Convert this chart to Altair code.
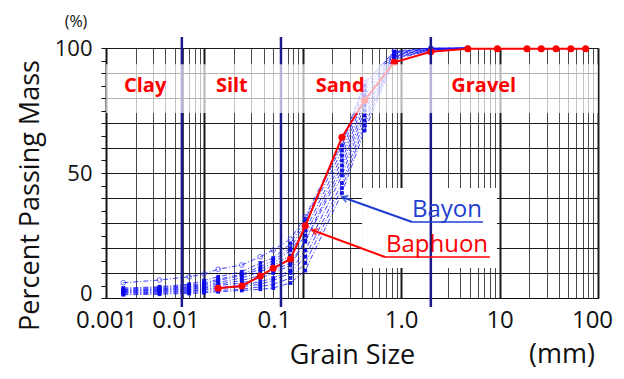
import altair as alt
import pandas as pd

# ---------------- data ----------------
# sieve / hydrometer grain sizes (mm) used for the Bayon samples
bayon_sizes = [0.0015, 0.0035, 0.007, 0.0099, 0.0138, 0.024, 0.037, 0.05,
               0.075, 0.106, 0.25, 0.425, 0.85, 2.0, 4.75]
# percent passing for each Bayon sample
bayon_01 = [6.1, 7.2, 8.5, 9.6, 11.5, 13.2, 16.5, 19.2, 23.5, 32.5, 62, 86, 98.8, 100, 100]
bayon_02 = [4.0, 4.5, 5.5, 7.0, 8.5, 10.5, 14.0, 16.0, 21.7, 31.5, 61, 85, 98.5, 100, 100]
bayon_03 = [3.6, 4.2, 5.0, 6.0, 7.5, 9.5, 12.5, 15.0, 20.0, 30.0, 59, 83, 98.3, 99.8, 100]
bayon_04 = [3.3, 3.8, 4.5, 5.5, 7.0, 9.0, 11.5, 14.0, 19.0, 27.0, 57, 81, 98.0, 99.7, 100]
bayon_05 = [3.0, 3.5, 4.2, 5.0, 6.2, 8.0, 10.5, 13.0, 17.0, 25.0, 55, 79, 97.6, 99.6, 100]
bayon_06 = [2.8, 3.2, 3.8, 4.5, 5.5, 7.0, 9.0, 11.0, 14.0, 23.0, 53, 77, 97.2, 99.5, 100]
bayon_07 = [2.5, 3.0, 3.5, 4.0, 5.0, 6.0, 8.0, 10.0, 13.0, 22.5, 51, 75, 97.0, 99.4, 100]
bayon_08 = [2.2, 2.6, 3.0, 3.5, 4.2, 5.0, 6.5, 8.0, 11.0, 19.0, 49, 73, 96.6, 99.3, 100]
bayon_09 = [2.0, 2.3, 2.7, 3.2, 3.8, 4.5, 5.5, 7.0, 10.0, 16.5, 46, 71, 96.2, 99.2, 100]
bayon_10 = [1.6, 1.9, 2.2, 2.6, 3.0, 3.5, 4.5, 5.5, 8.0, 14.0, 44, 69, 96.0, 99.0, 100]
bayon_11 = [1.3, 1.5, 1.8, 2.1, 2.5, 3.0, 3.5, 4.0, 6.0, 11.0, 42, 67, 95.5, 99.0, 100]
bayon_all = [bayon_01, bayon_02, bayon_03, bayon_04, bayon_05, bayon_06,
             bayon_07, bayon_08, bayon_09, bayon_10, bayon_11]

baphuon_sizes = [0.0138, 0.024, 0.037, 0.05, 0.075, 0.106, 0.25, 0.425, 0.85,
                 2.0, 4.75, 9.5, 19.0, 26.5, 37.5, 53.0, 75.0]
baphuon_pass = [3.9, 4.8, 8.8, 11.9, 15.6, 28.9, 64.3, 79.0, 94.3,
                98.5, 99.7, 99.7, 99.7, 99.7, 99.7, 99.7, 99.7]

# soil class boundaries (mm) and class labels
class_bounds = [0.0059, 0.06, 2.0]
class_names = ["Clay", "Silt", "Sand", "Gravel"]
class_label_x = [0.0025, 0.019, 0.24, 6.9]
class_label_y = [85, 85, 85, 85]

# axis ticks
x_decades = [0.001, 0.01, 0.1, 1, 10, 100]
x_decade_labels = ["0.001", "0.01", "0.1", "1.0", "10", "100"]
y_ticks = list(range(0, 101, 5))

# legend annotation
legend_names = ["Bayon", "Baphuon"]
legend_colors = ["#1f3fd0", "#ff0000"]
legend_text_x = [2.92, 2.31]
legend_text_y = [32.4, 18.4]
underline_x1 = [1.29, 0.684]
underline_x2 = [6.78, 7.98]
underline_y = [30.4, 16.4]
arrow_tip_x = [0.25, 0.124]
arrow_tip_y = [40.4, 27.2]
arrow_angle = [289.6, 290.3]

# ---------------- tables ----------------
rows = []
for i, arr in enumerate(bayon_all):
    for d, p in zip(bayon_sizes, arr):
        rows.append({"sample": f"B{i+1:02d}", "d": d, "p": p})
bayon_df = pd.DataFrame(rows)
bayon_open = bayon_df[bayon_df["sample"] == "B01"]
bayon_filled = bayon_df[bayon_df["sample"] != "B01"]
baphuon_df = pd.DataFrame({"d": baphuon_sizes, "p": baphuon_pass})
bounds_df = pd.DataFrame({"d": class_bounds})
names_df = pd.DataFrame({"name": class_names, "d": class_label_x, "p": class_label_y})
leg_df = pd.DataFrame({
    "name": legend_names, "color": legend_colors,
    "tx": legend_text_x, "ty": legend_text_y,
    "ux1": underline_x1, "ux2": underline_x2, "uy": underline_y,
    "ax": arrow_tip_x, "ay": arrow_tip_y, "ang": arrow_angle,
})
band_df = pd.DataFrame({"p1": [74.0], "p2": [93.5]})
box_df = pd.DataFrame({"d1": [0.4], "d2": [9.4], "p1": [12.0], "p2": [44.0]})

W, H = 492, 250
FONT = "Open Sans"

xscale = alt.Scale(type="log", domain=[0.001, 100], nice=False)
yscale = alt.Scale(domain=[0, 100], nice=False)

x_vals = [k * 10.0 ** e for e in range(-3, 2) for k in range(1, 10)] + [100.0]
label_expr = " : ".join(
    f"abs(datum.value/{v} - 1) < 1e-6 ? '{t}'" for v, t in zip(x_decades, x_decade_labels)
) + " : ''"
decade_test = "abs(log(datum.value)/LN10 - round(log(datum.value)/LN10)) < 0.001"

x_axis = alt.Axis(
    values=x_vals, labelExpr=label_expr, labelOverlap=False, labelBound=False,
    labelFlush=False,
    labelFont=FONT, labelFontSize=24, labelColor="#111", labelPadding=10,
    labelOffset={"condition": [{"test": "datum.value > 0.005 && datum.value < 0.5", "value": -29},
                               {"test": "datum.value > 50", "value": -6}], "value": 0},
    ticks=False, domainColor="#111", domainWidth=1,
    grid=True,
    gridColor="#1a1a1a",
    gridWidth={"condition": {"test": decade_test, "value": 2}, "value": 1},
    gridOpacity={"condition": {"test": decade_test, "value": 1}, "value": 0.8},
    title="Grain Size", titleFont=FONT, titleFontSize=27, titleFontWeight="normal",
    titleColor="#111", titleX=246, titleY=65, titleAlign="center", titleBaseline="alphabetic",
)
y_axis = alt.Axis(
    values=y_ticks, labelExpr="datum.value % 50 == 0 ? datum.label : ''",
    labelFont=FONT, labelFontSize=22, labelColor="#111", labelPadding=9,
    labelOffset={"condition": {"test": "datum.value == 0", "value": -5}, "value": 0},
    tickSize=5, tickColor="#111", domainColor="#111",
    grid=True, gridColor="#1a1a1a", gridWidth=1,
    gridOpacity={"condition": {"test": "datum.value % 10 == 0", "value": 1}, "value": 0},
    title="Percent Passing Mass", titleFont=FONT, titleFontSize=27, titleFontWeight="normal",
    titleColor="#111", titleX=-68, titleY=147, titleAngle=270, titleAlign="center",
    titleBaseline="alphabetic",
)


def X(f):
    return alt.X(f, type="quantitative", scale=xscale, axis=x_axis)


def Y(f):
    return alt.Y(f, type="quantitative", scale=yscale, axis=y_axis)


box = alt.Chart(box_df).mark_rect(color="white").encode(
    x=X("d1"), x2="d2", y=Y("p1"), y2="p2")

blue_lines = alt.Chart(bayon_df).mark_line(
    color="#1414ff", strokeWidth=1, strokeDash=[5, 2, 1, 2], opacity=0.8
).encode(x=X("d"), y=Y("p"), detail="sample:N", order="d:Q")

blue_pts = alt.Chart(bayon_filled).mark_point(
    filled=True, shape="square", size=14, color="#0a0ae6", opacity=0.95
).encode(x=X("d"), y=Y("p"))

blue_open = alt.Chart(bayon_open).mark_point(
    filled=False, shape="circle", size=22, color="#3030ff", strokeWidth=1
).encode(x=X("d"), y=Y("p"))

red_line = alt.Chart(baphuon_df).mark_line(color="#ff0000", strokeWidth=2).encode(
    x=X("d"), y=Y("p"), order="d:Q")
red_pts = alt.Chart(baphuon_df).mark_circle(color="#ff0000", size=50, opacity=1).encode(
    x=X("d"), y=Y("p"))

bounds = alt.Chart(bounds_df).mark_rule(color="#1a1a8a", strokeWidth=2.5).encode(
    x=X("d"), y=alt.value(-11), y2=alt.value(H + 9))

band = alt.Chart(band_df).mark_rect(color="white", opacity=0.68).encode(
    x=alt.value(0), x2=alt.value(W), y=Y("p1"), y2="p2")

names = alt.Chart(names_df).mark_text(
    color="#ff0000", font=FONT, fontSize=20, fontWeight="bold", align="center", baseline="middle"
).encode(x=X("d"), y=Y("p"), text="name:N")

leg_text = alt.Chart(leg_df).mark_text(
    font=FONT, fontSize=24, align="center", baseline="alphabetic"
).encode(x=X("tx"), y=Y("ty"), text="name:N", color=alt.Color("color:N", scale=None))

underline = alt.Chart(leg_df).mark_rule(strokeWidth=1.5).encode(
    x=X("ux1"), x2="ux2", y=Y("uy"), color=alt.Color("color:N", scale=None))

arrow = alt.Chart(leg_df).mark_rule(strokeWidth=2).encode(
    x=X("ux1"), x2="ax", y=Y("uy"), y2="ay", color=alt.Color("color:N", scale=None))

arrow_head = alt.Chart(leg_df).mark_point(
    shape="M-0.7,1.2L0,0L0.7,1.2", filled=False, strokeWidth=2, size=90
).encode(x=X("ax"), y=Y("ay"), angle=alt.Angle("ang:Q", scale=None),
         color=alt.Color("color:N", scale=None))

pct = alt.Chart(pd.DataFrame({"t": ["(%)"]})).mark_text(
    font=FONT, fontSize=16, color="#111", align="center", baseline="middle"
).encode(text="t:N", x=alt.value(-30), y=alt.value(-26))

mm = alt.Chart(pd.DataFrame({"t": ["(mm)"]})).mark_text(
    font=FONT, fontSize=27, color="#111", align="center", baseline="alphabetic"
).encode(text="t:N", x=alt.value(456), y=alt.value(H + 65))

chart = alt.layer(
    blue_lines, box, blue_pts, blue_open, red_line, red_pts, bounds, band,
    names, underline, arrow, arrow_head, leg_text, pct, mm
).properties(
    width=W, height=H,
    autosize=alt.AutoSizeParams(type="none"),
    padding={"left": 98, "top": 40, "right": 18, "bottom": 73},
    background="white",
).configure_view(stroke="#111", strokeWidth=1)

chart.save("out.html", embed_options={"renderer": "svg", "actions": False})
